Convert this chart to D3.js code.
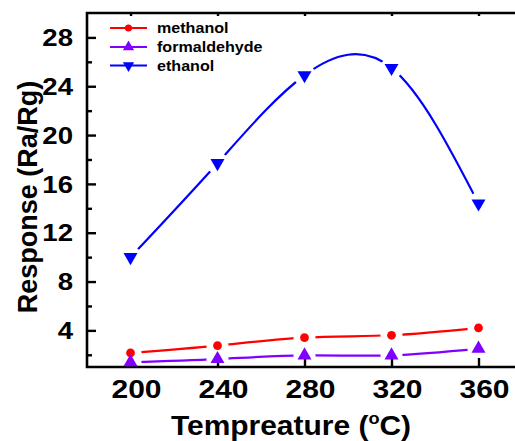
<!DOCTYPE html>
<html>
<head>
<meta charset="utf-8">
<script src="https://cdn.jsdelivr.net/npm/d3@7"></script>
<style>
  body { margin: 0; background: #fff; overflow: hidden; }
  svg { display: block; font-family: Arial, "Liberation Sans", sans-serif; font-weight: bold; }
</style>
</head>
<body>
<div id="chart-area"></div>
<script>
// data
const temps = [200, 240, 280, 320, 360]
const methanol = [2.15, 2.75, 3.4, 3.6, 4.2]
const formaldehyde = [1.4, 1.65, 1.95, 1.95, 2.5]
const ethanol = [10.0, 17.7, 24.9, 25.5, 14.4]
const seriesNames = ["methanol", "formaldehyde", "ethanol"]
const seriesColors = ["#ff0000", "#7f00ff", "#0000ff"]
const xTicks = [200, 240, 280, 320, 360]
const yTicks = [4, 8, 12, 16, 20, 24, 28]
const yMinorTicks = [2, 6, 10, 14, 18, 22, 26]

const W = 515
const H = 441
const PLOT = { LEFT: 87, TOP: 13, RIGHT: 522, BOTTOM: 367 }

const svg = d3.select("#chart-area").append("svg")
  .attr("width", W)
  .attr("height", H)

// Scales
const x = d3.scaleLinear().domain([180, 380]).range([PLOT.LEFT, PLOT.RIGHT])
const y = d3.scaleLinear().domain([1, 30]).range([PLOT.BOTTOM, PLOT.TOP])

// frame: left, top and bottom only (right side falls outside the picture)
svg.append("path")
  .attr("d", `M${W + 5},${PLOT.TOP}H${PLOT.LEFT}V${PLOT.BOTTOM}H${W + 5}`)
  .attr("fill", "none").attr("stroke", "#000").attr("stroke-width", 2.6)

// ticks (inside)
function tickAxis(axis, tr) {
  const g = svg.append("g").attr("transform", tr).call(axis)
  g.select(".domain").remove()
  g.selectAll(".tick line").attr("stroke", "#000").attr("stroke-width", 2.4)
  g.selectAll("text").remove()
  return g
}
tickAxis(d3.axisBottom(x).tickValues(xTicks).tickSize(-9).tickSizeOuter(0), `translate(0,${PLOT.BOTTOM})`)
tickAxis(d3.axisTop(x).tickValues(xTicks).tickSize(-3).tickSizeOuter(0), `translate(0,${PLOT.TOP})`)
tickAxis(d3.axisLeft(y).tickValues(yTicks).tickSize(-9).tickSizeOuter(0), `translate(${PLOT.LEFT},0)`)
tickAxis(d3.axisLeft(y).tickValues(yMinorTicks).tickSize(-5).tickSizeOuter(0), `translate(${PLOT.LEFT},0)`)

// tick labels
svg.append("g").selectAll("text")
  .data(yTicks).enter().append("text")
  .attr("transform", d => `translate(73,${y(d)}) scale(1.15,1)`)
  .attr("dy", "0.36em")
  .attr("text-anchor", "end")
  .attr("font-size", 24)
  .text(d => d)

svg.append("g").selectAll("text")
  .data(xTicks).enter().append("text")
  .attr("transform", d => `translate(${x(d) + 6},398) scale(1.2,1)`)
  .attr("text-anchor", "middle")
  .attr("font-size", 25)
  .text(d => d)

// axis titles
const xTitle = svg.append("text")
  .attr("transform", "translate(291,435) scale(1.07,1)")
  .attr("text-anchor", "middle")
  .attr("font-size", 28)
xTitle.append("tspan").text("Tempreature (")
xTitle.append("tspan").attr("font-size", 17).attr("dy", -11).text("o")
xTitle.append("tspan").attr("dy", 11).text("C)")

svg.append("text")
  .attr("transform", "translate(37,197) rotate(-90)")
  .attr("text-anchor", "middle")
  .attr("font-size", 27)
  .text("Response (Ra/Rg)")

// series
const series = [methanol, formaldehyde, ethanol].map((vals, i) => ({
  name: seriesNames[i],
  color: seriesColors[i],
  points: temps.map((t, j) => ({ t: t, v: vals[j] }))
}))

const line = d3.line()
  .x(d => x(d.t))
  .y(d => y(d.v))
  .curve(d3.curveNatural)

const markerPath = [
  d3.symbol().type(d3.symbolCircle).size(60)(),
  d3.symbol().type(d3.symbolTriangle).size(85)(),
  d3.symbol().type(d3.symbolTriangle).size(85)()
]
const markerRot = [0, 0, 180]

const defs = svg.append("defs")
series.forEach((s, i) => {
  // the line breaks around its own markers
  const mask = defs.append("mask")
    .attr("id", "gap" + i)
    .attr("maskUnits", "userSpaceOnUse")
    .attr("x", 0).attr("y", 0).attr("width", W).attr("height", H)
  mask.append("rect").attr("width", W).attr("height", H).attr("fill", "#fff")
  mask.selectAll("circle").data(s.points).enter().append("circle")
    .attr("cx", d => x(d.t)).attr("cy", d => y(d.v)).attr("r", 11).attr("fill", "#000")

  svg.append("path")
    .datum(s.points)
    .attr("d", line)
    .attr("fill", "none")
    .attr("stroke", s.color)
    .attr("stroke-width", 2.2)
    .attr("mask", `url(#gap${i})`)

  svg.append("g").selectAll("path")
    .data(s.points).enter().append("path")
    .attr("d", markerPath[i])
    .attr("transform", d => `translate(${x(d.t)},${y(d.v)}) rotate(${markerRot[i]})`)
    .attr("fill", s.color)
})

// legend
const legendY = [28, 47, 65.5]
const legendMarker = [
  d3.symbol().type(d3.symbolCircle).size(40)(),
  d3.symbol().type(d3.symbolTriangle).size(55)(),
  d3.symbol().type(d3.symbolTriangle).size(55)()
]
const legend = svg.append("g").selectAll("g")
  .data(series).enter().append("g")
  .attr("transform", (d, i) => `translate(0,${legendY[i]})`)

legend.append("line")
  .attr("x1", 110).attr("x2", 147)
  .attr("stroke", d => d.color).attr("stroke-width", 2.2)
legend.append("path")
  .attr("d", (d, i) => legendMarker[i])
  .attr("transform", (d, i) => `translate(128.5,0) rotate(${markerRot[i]})`)
  .attr("fill", d => d.color)
legend.append("text")
  .attr("transform", "translate(157,0) scale(1.15,1)")
  .attr("dy", "0.36em")
  .attr("font-size", 14)
  .text(d => d.name)
</script>
</body>
</html>
